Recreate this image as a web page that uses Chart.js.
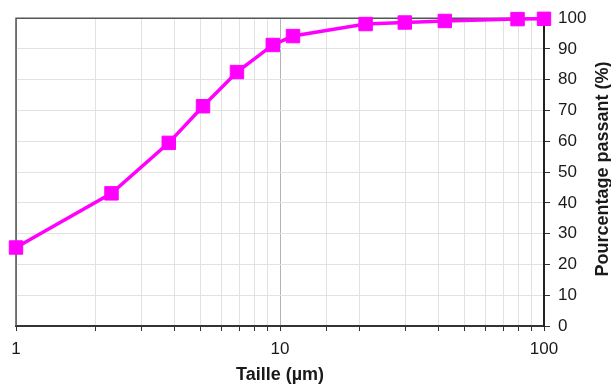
<!DOCTYPE html>
<html>
<head>
<meta charset="utf-8">
<script src="https://cdn.jsdelivr.net/npm/chart.js@4/dist/chart.umd.min.js"></script>
<style>
  html, body { margin: 0; padding: 0; background: #fff; }
  #box { width: 611px; height: 387px; }
</style>
</head>
<body>
<div id="box"><canvas id="curve" width="611" height="387"></canvas></div>
<script>
const sizes = [1, 2.3, 3.79, 5.11, 6.87, 9.39, 11.2, 21.1, 29.7, 42.1, 79.4, 100];
const passing = [25.5, 43.1, 59.5, 71.4, 82.5, 91.3, 94.2, 98.1, 98.6, 99.1, 99.7, 99.8];
const xLabelled = [1, 10, 100];
const yMin = 0, yMax = 100, yStep = 10;
const xTitle = "Taille (µm)";
const yTitle = "Pourcentage passant (%)";

const fontName = "'Liberation Sans', Arial, sans-serif";
const inkColor = "#1a1a1a";

// frame on the left and top sides + rotated title on the right
const framePlugin = {
  id: "frame",
  beforeDatasetsDraw(chart) {
    const a = chart.chartArea;
    const ctx = chart.ctx;
    ctx.save();
    ctx.strokeStyle = "#555";
    ctx.lineWidth = 1.5;
    ctx.beginPath();
    ctx.moveTo(a.left, a.bottom);
    ctx.lineTo(a.left, a.top);
    ctx.lineTo(a.right, a.top);
    ctx.stroke();
    ctx.restore();
  },
  afterDraw(chart) {
    const a = chart.chartArea;
    const ctx = chart.ctx;
    ctx.save();
    ctx.translate(603, 169);
    ctx.rotate(-Math.PI / 2);
    ctx.font = "bold 18px " + fontName;
    ctx.fillStyle = inkColor;
    ctx.textAlign = "center";
    ctx.textBaseline = "middle";
    ctx.fillText(yTitle, 0, 0);
    ctx.restore();
  }
};

function isDecade(v) {
  const l = Math.log10(v);
  return Math.abs(l - Math.round(l)) < 1e-9;
}

const ctx = document.getElementById("curve").getContext("2d");
new Chart(ctx, {
  type: "line",
  data: {
    datasets: [{
      data: sizes.map((s, i) => ({ x: s, y: passing[i] })),
      borderColor: "#ff00ff",
      backgroundColor: "#ff00ff",
      borderWidth: 3.5,
      pointStyle: "rect",
      pointRadius: 9.5,
      pointHoverRadius: 9.5,
      pointBorderWidth: 1,
      tension: 0,
      clip: false
    }]
  },
  options: {
    responsive: false,
    animation: false,
    devicePixelRatio: 1,
    layout: { padding: { left: 16, top: 16, right: 0, bottom: 0 } },
    plugins: { legend: { display: false }, tooltip: { enabled: false } },
    scales: {
      x: {
        type: "logarithmic",
        min: 1,
        max: 100,
        position: "bottom",
        afterFit(s) { s.height = 61; },
        border: { color: "#333", width: 2 },
        grid: {
          color: c => isDecade(c.tick.value) ? "#b4b4b4" : "#e2e2e2",
          tickColor: "#333",
          tickLength: 5,
          lineWidth: 1
        },
        ticks: {
          autoSkip: false,
          maxRotation: 0,
          padding: 8,
          color: inkColor,
          font: { family: fontName, size: 17 },
          callback: v => xLabelled.includes(v) ? String(v) : ""
        },
        title: {
          display: true,
          text: xTitle,
          color: inkColor,
          font: { family: fontName, size: 18, weight: "bold" },
          padding: { top: 0, bottom: 1 }
        }
      },
      y: {
        position: "right",
        min: yMin,
        max: yMax,
        afterFit(s) { s.width = 67; },
        border: { color: "#222", width: 2 },
        grid: {
          color: "#e2e2e2",
          tickColor: "#333",
          tickLength: 6,
          lineWidth: 1
        },
        ticks: {
          stepSize: yStep,
          padding: 8,
          color: inkColor,
          font: { family: fontName, size: 17 }
        }
      }
    }
  },
  plugins: [framePlugin]
});
</script>
</body>
</html>
